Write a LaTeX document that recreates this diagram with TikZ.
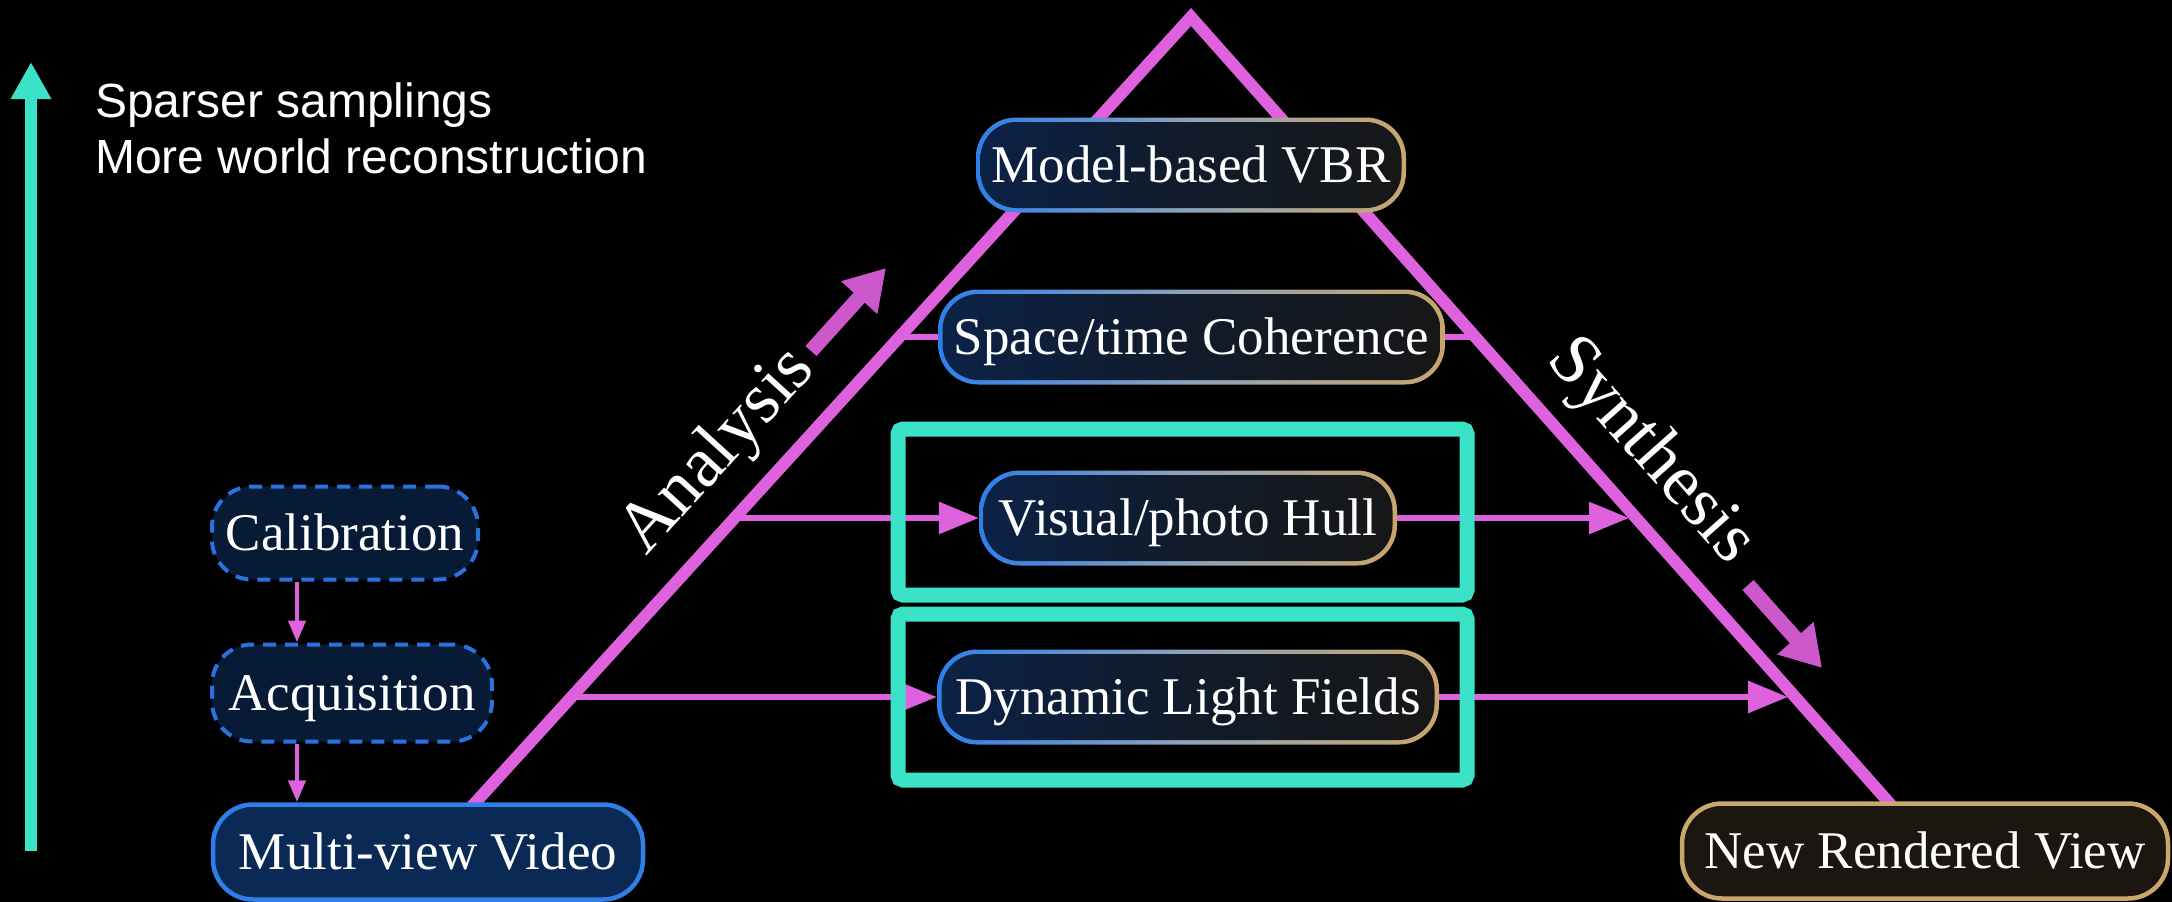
\documentclass[tikz,border=0pt]{standalone}
\usepackage{fontspec}
\setmainfont{Liberation Serif}
\newfontfamily\sansf{Liberation Sans}
\usetikzlibrary{arrows.meta,calc}
\definecolor{pk}{HTML}{DE62DE}
\definecolor{pkd}{HTML}{CC58CC}
\definecolor{tl}{HTML}{3AE2C8}
\definecolor{gbl}{HTML}{2F7FE8}
\definecolor{gbm}{HTML}{8EA3BA}
\definecolor{gbr}{HTML}{C9A66B}
\definecolor{fl}{HTML}{0B2247}
\definecolor{fm}{HTML}{111B2A}
\definecolor{fr}{HTML}{171717}
\definecolor{navy}{HTML}{0A2A55}
\definecolor{dnavy}{HTML}{071A36}
\definecolor{dashblue}{HTML}{2A72DE}
\definecolor{dbrown}{HTML}{1B1710}
\newcommand\boxfont{\fontsize{53}{62}\selectfont}
\newcommand\bigfont{\fontsize{72}{78}\selectfont}
\newcommand\topfont{\sansf\fontsize{48}{56}\selectfont}
\tikzset{
  basebox/.style={rectangle, rounded corners=40pt, inner sep=0pt, text=white,
    font=\boxfont, minimum height=95pt, text height=35pt, text depth=0pt},
  gbox/.style={basebox, left color=gbl, right color=gbr, middle color=gbm,
    path picture={\shade[left color=fl, right color=fr, middle color=fm, rounded corners=36pt]
      ([xshift=4.5pt,yshift=4.5pt]path picture bounding box.south west) rectangle
      ([xshift=-4.5pt,yshift=-4.5pt]path picture bounding box.north east);}},
  dbox/.style={basebox, draw=dashblue, fill=dnavy, line width=4pt, dash pattern=on 13pt off 9pt},
  mvbox/.style={basebox, draw=gbl, fill=navy, line width=4.5pt},
  nrbox/.style={basebox, draw=gbr, fill=dbrown, line width=4.5pt},
  conn/.style={draw=pk, line width=6pt, -{Triangle[length=40pt,width=31pt]}},
  tick/.style={draw=pk, line width=6pt},
  sarr/.style={draw=pk, line width=4.5pt, -{Triangle[length=22pt,width=17pt]}},
  bigarr/.style={draw=pkd, line width=15pt, -{Triangle[length=40pt,width=46pt]}},
  leg/.style={draw=pk, line width=12pt, line join=miter},
  frame/.style={draw=tl, line width=15pt, rounded corners=5pt},
}
\begin{document}
\begin{tikzpicture}[x=1pt,y=-1pt]
\fill[black] (0,0) rectangle (2172,902);
\useasboundingbox (0,0) rectangle (2172,902);

% triangle legs
\coordinate (apex) at (1191,17);
\coordinate (lb) at (464,815);
\coordinate (rb) at (1900,815);
\draw[leg] (lb) -- (apex) -- (rb);

% boxes
\node[gbox, minimum width=430pt] (mod) at (1191,165) {Model-based VBR};
\node[gbox, minimum width=507pt] (spc) at (1191.5,337) {Space/time Coherence};
\node[gbox, minimum width=418pt] (vis) at (1188,518) {Visual/photo Hull};
\node[gbox, minimum width=502pt] (dyn) at (1188,697) {Dynamic Light Fields};
\node[dbox, minimum width=266pt, minimum height=93pt] (cal) at (345,533) {Calibration};
\node[dbox, minimum width=280pt, minimum height=97pt] (acq) at (352,693) {Acquisition};
\node[mvbox, minimum width=430pt] (mv) at (428,852) {Multi-view Video};
\node[nrbox, minimum width=486pt] (nrv) at (1925,851) {New Rendered View};

% connectors from the legs
\coordinate (l1) at (899,337);
\coordinate (r1) at (1476,337);
\coordinate (l2) at (734,518);
\coordinate (r2) at (1629,518);
\coordinate (l3) at (571,697);
\coordinate (r3) at (1788,697);
\draw[tick] (l1) -- (spc.west);
\draw[tick] (spc.east) -- (r1);
\draw[conn] (l2) -- (vis.west);
\draw[conn] (vis.east) -- (r2);
\draw[conn] (l3) -- (dyn.west);
\draw[conn] (dyn.east) -- (r3);

% small vertical arrows
\coordinate (ax) at (297,0);
\draw[sarr] (cal.south -| ax) -- (acq.north -| ax);
\draw[sarr] (acq.south -| ax) -- (mv.north -| ax);

% highlight frames
\draw[frame] (898,429) rectangle (1467,595);
\draw[frame] (898,614) rectangle (1467,780);

% analysis / synthesis
\coordinate (a1) at (811,351);
\coordinate (a2) at (886,268);
\draw[bigarr] (a1) -- (a2);
\coordinate (s1) at (1748,585);
\coordinate (s2) at (1822,668);
\draw[bigarr] (s1) -- (s2);
\node[rotate=47.7, font=\bigfont, text=white] (ana) at (719,452) {Analysis};
\node[rotate=-48.4, font=\bigfont, text=white] (syn) at (1650,452) {Synthesis};

% left teal arrow and text
\coordinate (tb) at (31,851);
\coordinate (tt) at (31,62);
\draw[draw=tl, line width=12pt, -{Triangle[length=37pt,width=38pt]}] (tb) -- (tt);
\node[anchor=base west, font=\topfont, text=white, inner sep=0pt] (t1) at (95,117) {Sparser samplings};
\node[anchor=base west, font=\topfont, text=white, inner sep=0pt] (t2) at (95,173) {More world reconstruction};
\end{tikzpicture}
\end{document}
